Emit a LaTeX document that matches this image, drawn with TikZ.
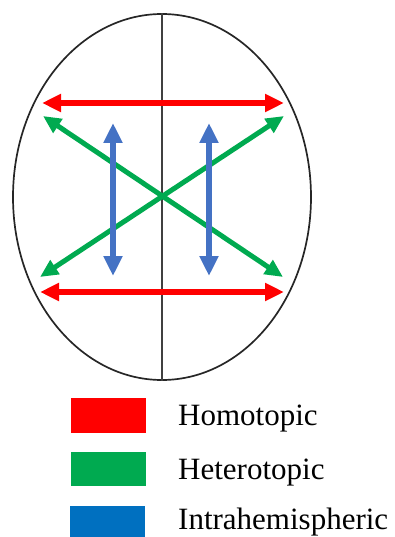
\documentclass[tikz,border=0pt]{standalone}
\usepackage{fontspec}
\setmainfont{Liberation Serif}
\usetikzlibrary{positioning,arrows.meta,shapes.geometric}
\definecolor{homred}{RGB}{255,0,0}
\definecolor{hetgreen}{RGB}{0,170,80}
\definecolor{intrablue}{RGB}{68,114,196}
\definecolor{keyblue}{RGB}{0,112,192}
\tikzset{
  brain/.style={draw=black!85, ellipse, line width=1.7pt, minimum width=298pt, minimum height=366pt, inner sep=0pt},
  midline/.style={draw=black!75, line width=1.6pt},
  homo/.style={draw=homred, line width=6pt, {Triangle[length=19pt,width=17pt]}-{Triangle[length=19pt,width=17pt]}},
  hetero/.style={draw=hetgreen, line width=5pt, {Triangle[length=18pt,width=16pt]}-{Triangle[length=18pt,width=16pt]}},
  intra/.style={draw=intrablue, line width=6pt, {Triangle[length=20pt,width=18pt]}-{Triangle[length=20pt,width=18pt]}},
  key/.style={fill=#1, minimum width=75pt, minimum height=35pt, inner sep=0pt},
  keytext/.style={font=\fontsize{31}{36}\selectfont, anchor=base west, inner sep=0pt}
}
\begin{document}
\begin{tikzpicture}[x=1pt, y=-1pt]
  \useasboundingbox (0,0) rectangle (395,537);
  % head outline
  \node[brain] (head) at (162,197) {};
  \draw[midline] (head.north) -- (head.south);
  % arrow ends
  \coordinate (htl) at (42,103);
  \coordinate (htr) at (284,103);
  \coordinate (hbl) at (40,292);
  \coordinate (hbr) at (284,292);
  \coordinate (gtl) at (43,116);
  \coordinate (gtr) at (284,116);
  \coordinate (gbl) at (40,277);
  \coordinate (gbr) at (283,277);
  \coordinate (lt) at (113,123);
  \coordinate (lb) at (113,276);
  \coordinate (rt) at (209,123);
  \coordinate (rb) at (209,276);
  \draw[homo] (htl) -- (htr);
  \draw[homo] (hbl) -- (hbr);
  \draw[hetero] (gtl) -- (gbr);
  \draw[hetero] (gbl) -- (gtr);
  \draw[intra] (lt) -- (lb);
  \draw[intra] (rt) -- (rb);
  % legend
  \node[key=homred] (homkey) at (108,415) {};
  \node[key=hetgreen, minimum height=34pt] (hetkey) at (108,469) {};
  \node[key=keyblue, minimum height=31pt] (intrakey) at (107,521.5) {};
  \node[keytext] (homtext) at (178,425) {Homotopic};
  \node[keytext] (hettext) at (178,479) {Heterotopic};
  \node[keytext] (intratext) at (178,529) {Intrahemispheric};
\end{tikzpicture}
\end{document}
